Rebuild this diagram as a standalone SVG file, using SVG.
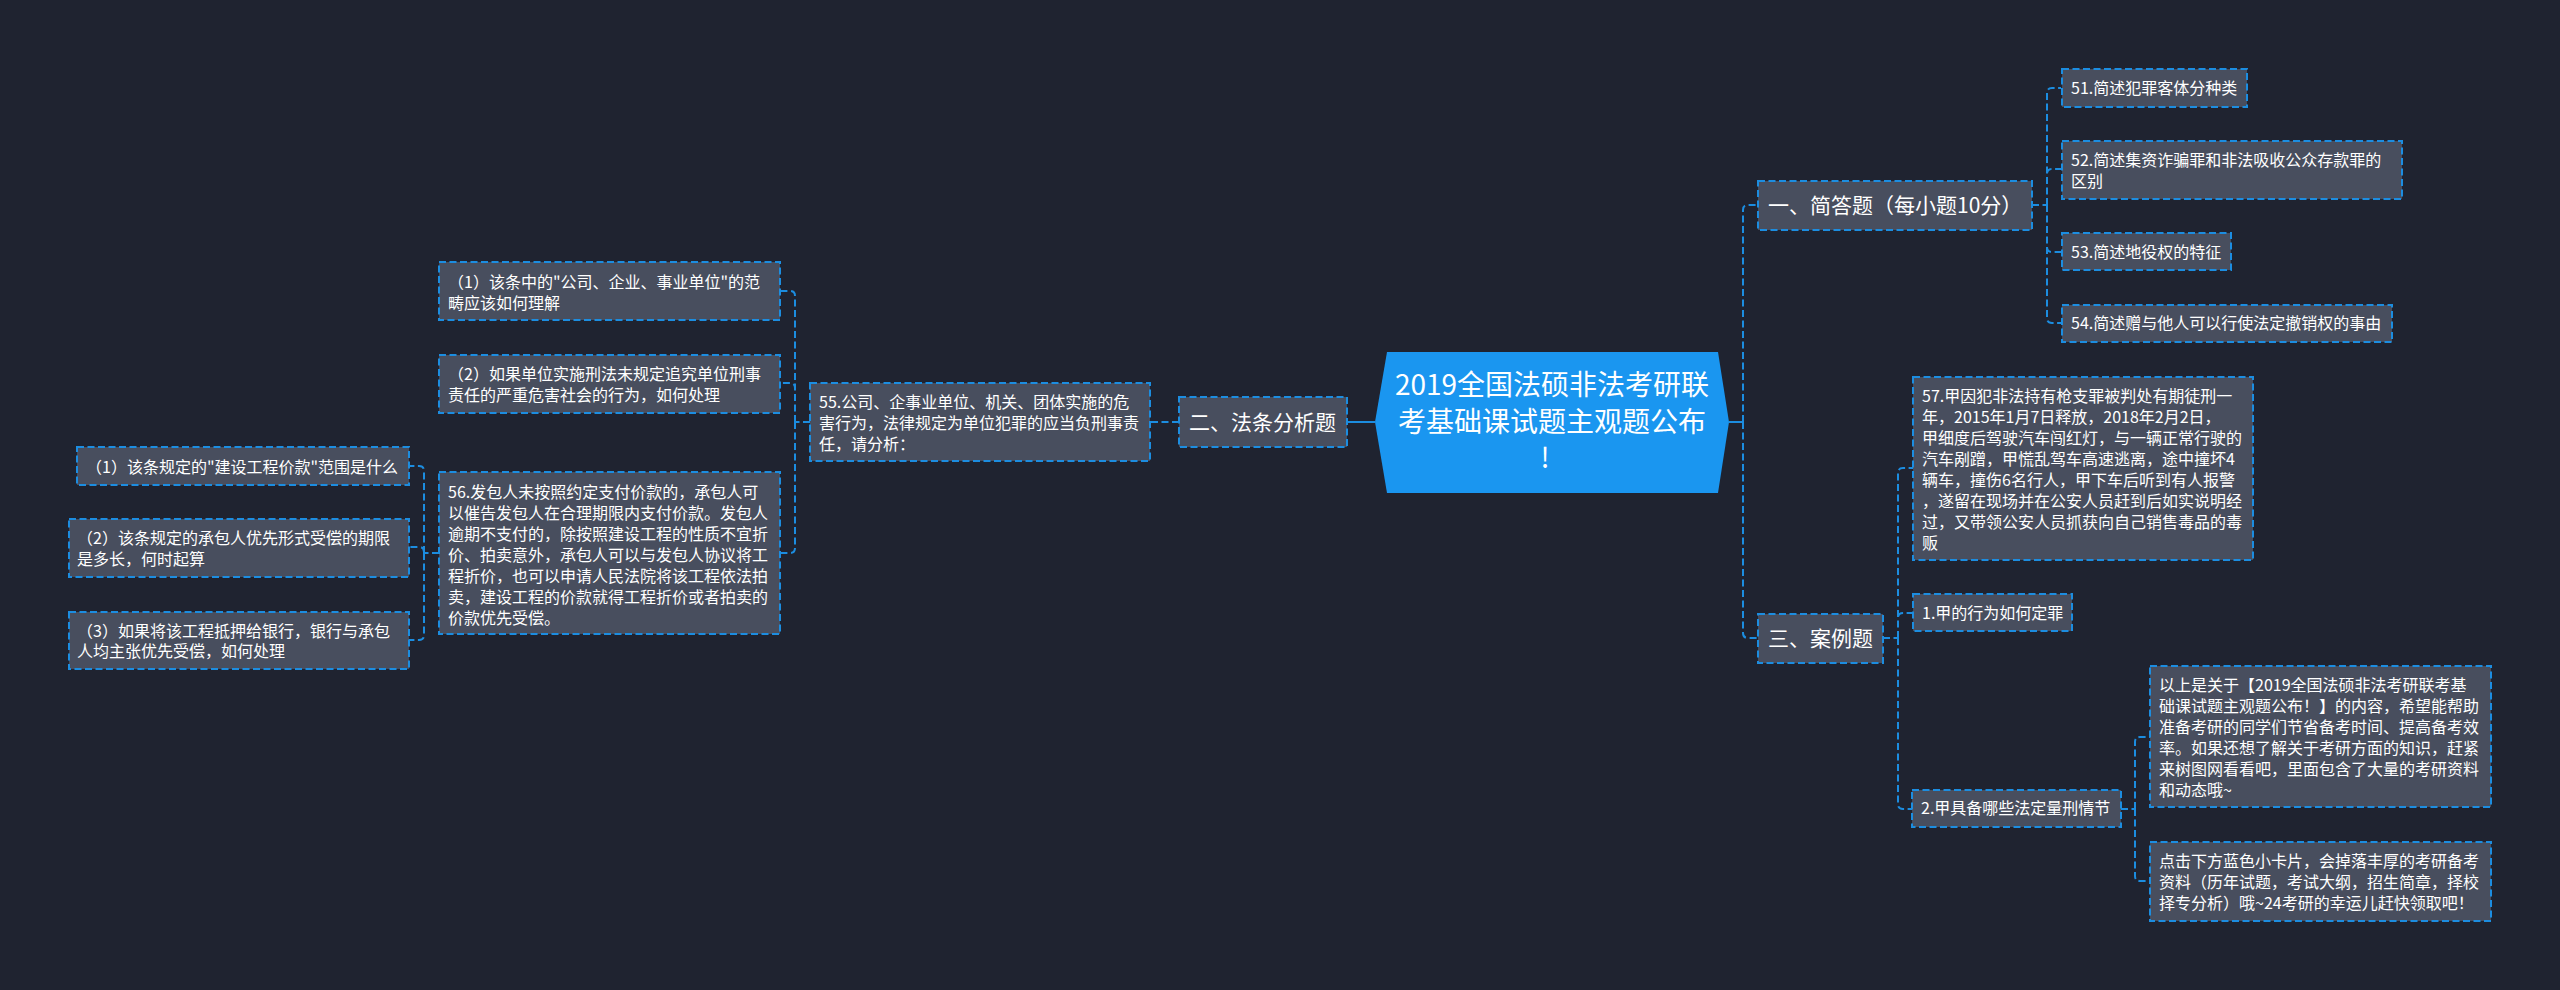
<svg xmlns="http://www.w3.org/2000/svg" width="2560" height="990" viewBox="0 0 2560 990">
<style>
text{font-family:"Noto Sans CJK SC","Noto Sans",sans-serif;fill:#fff}
.n{fill:#484e5e;stroke:#1c8de0;stroke-width:2;stroke-dasharray:7 3.5}
.t{font-size:16px}
.m{font-size:21px}
.c{font-size:28px;text-anchor:middle}
.l{fill:none;stroke:#1c8de0;stroke-width:2;stroke-dasharray:7 3.5}
.s{fill:none;stroke:#1c8de0;stroke-width:2}
</style>
<rect width="2560" height="990" fill="#1f2330"/>
<g id="connectors">
<path class="s" d="M1729 422H1743M1375 422H1355"/>
<path class="l" d="M1743 422V210Q1743 205 1748 205H1758M1743 422V633Q1743 638 1748 638H1758"/>
<path class="l" d="M2032 205H2047M2047 205V93Q2047 88 2052 88H2061M2047 205V174Q2047 169 2052 169H2061M2047 205V247Q2047 252 2052 252H2061M2047 205V318Q2047 323 2052 323H2061"/>
<path class="l" d="M1883 638H1898M1898 638V473Q1898 468 1903 468H1913M1898 638V618Q1898 613 1903 613H1913M1898 638V804Q1898 809 1903 809H1912"/>
<path class="l" d="M2121 809H2135M2135 809V742Q2135 737 2140 737H2150M2135 809V876Q2135 881 2140 881H2150"/>
<path class="l" d="M1355 422H1347M1179 422H1150"/>
<path class="l" d="M810 422H795M795 422V296Q795 291 790 291H780M795 422V388Q795 383 790 383H780M795 422V548Q795 553 790 553H780"/>
<path class="l" d="M439 553H424M424 553V471Q424 466 419 466H409M424 553V552Q424 547 419 547H409M424 553V635Q424 640 419 640H409"/>
</g>
<g id="root">
<polygon points="1375,422 1387,352 1718,352 1729,422 1718,493 1387,493" fill="#1a96f0"/>
<text class="c" x="1552" y="395">2019全国法硕非法考研联</text>
<text class="c" x="1552" y="432">考基础课试题主观题公布</text>
<text class="c" x="1545" y="468">!</text>
</g>
<g id="n1"><rect class="n" x="1758" y="181" width="274" height="49"/><text class="m" x="1768" y="213">一、简答题（每小题10分）</text></g>
<g id="n51"><rect class="n" x="2062" y="69" width="185" height="38"/><text class="t" x="2071" y="94">51.简述犯罪客体分种类</text></g>
<g id="n52"><rect class="n" x="2062" y="141" width="340" height="58"/><text class="t" x="2071" y="166">52.简述集资诈骗罪和非法吸收公众存款罪的</text><text class="t" x="2071" y="187">区别</text></g>
<g id="n53"><rect class="n" x="2062" y="233" width="169" height="37"/><text class="t" x="2071" y="258">53.简述地役权的特征</text></g>
<g id="n54"><rect class="n" x="2062" y="305" width="330" height="37"/><text class="t" x="2071" y="329">54.简述赠与他人可以行使法定撤销权的事由</text></g>
<g id="n3"><rect class="n" x="1758" y="614" width="125" height="49"/><text class="m" x="1768" y="646">三、案例题</text></g>
<g id="n57"><rect class="n" x="1913" y="377" width="340" height="183"/>
<text class="t" x="1922" y="402">57.甲因犯非法持有枪支罪被判处有期徒刑一</text>
<text class="t" x="1922" y="423">年，2015年1月7日释放，2018年2月2日，</text>
<text class="t" x="1922" y="444">甲细度后驾驶汽车闯红灯，与一辆正常行驶的</text>
<text class="t" x="1922" y="465">汽车剐蹭，甲慌乱驾车高速逃离，途中撞坏4</text>
<text class="t" x="1922" y="486">辆车，撞伤6名行人，甲下车后听到有人报警</text>
<text class="t" x="1922" y="507">，遂留在现场并在公安人员赶到后如实说明经</text>
<text class="t" x="1922" y="528">过，又带领公安人员抓获向自己销售毒品的毒</text>
<text class="t" x="1922" y="549">贩</text></g>
<g id="n571"><rect class="n" x="1913" y="594" width="159" height="37"/><text class="t" x="1922" y="619">1.甲的行为如何定罪</text></g>
<g id="n572"><rect class="n" x="1912" y="790" width="209" height="37"/><text class="t" x="1921" y="814">2.甲具备哪些法定量刑情节</text></g>
<g id="n5721"><rect class="n" x="2150" y="666" width="341" height="141"/>
<text class="t" x="2159" y="691">以上是关于【2019全国法硕非法考研联考基</text>
<text class="t" x="2159" y="712">础课试题主观题公布！】的内容，希望能帮助</text>
<text class="t" x="2159" y="733">准备考研的同学们节省备考时间、提高备考效</text>
<text class="t" x="2159" y="754">率。如果还想了解关于考研方面的知识，赶紧</text>
<text class="t" x="2159" y="775">来树图网看看吧，里面包含了大量的考研资料</text>
<text class="t" x="2159" y="796">和动态哦~</text></g>
<g id="n5722"><rect class="n" x="2150" y="842" width="341" height="79"/>
<text class="t" x="2159" y="867">点击下方蓝色小卡片，会掉落丰厚的考研备考</text>
<text class="t" x="2159" y="888">资料（历年试题，考试大纲，招生简章，择校</text>
<text class="t" x="2159" y="909">择专分析）哦~24考研的幸运儿赶快领取吧！</text></g>
<g id="n2"><rect class="n" x="1179" y="397" width="168" height="50"/><text class="m" x="1189" y="430">二、法条分析题</text></g>
<g id="n55"><rect class="n" x="810" y="383" width="340" height="78"/>
<text class="t" x="819" y="408">55.公司、企事业单位、机关、团体实施的危</text>
<text class="t" x="819" y="429">害行为，法律规定为单位犯罪的应当负刑事责</text>
<text class="t" x="819" y="450">任，请分析：</text></g>
<g id="a1"><rect class="n" x="439" y="262" width="341" height="58"/>
<text class="t" x="448" y="288">（1）该条中的"公司、企业、事业单位"的范</text>
<text class="t" x="448" y="309">畴应该如何理解</text></g>
<g id="a2"><rect class="n" x="439" y="355" width="341" height="58"/>
<text class="t" x="448" y="380">（2）如果单位实施刑法未规定追究单位刑事</text>
<text class="t" x="448" y="401">责任的严重危害社会的行为，如何处理</text></g>
<g id="n56"><rect class="n" x="439" y="472" width="341" height="162"/>
<text class="t" x="448" y="498">56.发包人未按照约定支付价款的，承包人可</text>
<text class="t" x="448" y="519">以催告发包人在合理期限内支付价款。发包人</text>
<text class="t" x="448" y="540">逾期不支付的，除按照建设工程的性质不宜折</text>
<text class="t" x="448" y="561">价、拍卖意外，承包人可以与发包人协议将工</text>
<text class="t" x="448" y="582">程折价，也可以申请人民法院将该工程依法拍</text>
<text class="t" x="448" y="603">卖，建设工程的价款就得工程折价或者拍卖的</text>
<text class="t" x="448" y="624">价款优先受偿。</text></g>
<g id="b1"><rect class="n" x="77" y="447" width="332" height="38"/><text class="t" x="86" y="473">（1）该条规定的"建设工程价款"范围是什么</text></g>
<g id="b2"><rect class="n" x="69" y="519" width="340" height="58"/>
<text class="t" x="77" y="544">（2）该条规定的承包人优先形式受偿的期限</text>
<text class="t" x="77" y="565">是多长，何时起算</text></g>
<g id="b3"><rect class="n" x="69" y="612" width="340" height="57"/>
<text class="t" x="77" y="637">（3）如果将该工程抵押给银行，银行与承包</text>
<text class="t" x="77" y="657">人均主张优先受偿，如何处理</text></g>
</svg>
